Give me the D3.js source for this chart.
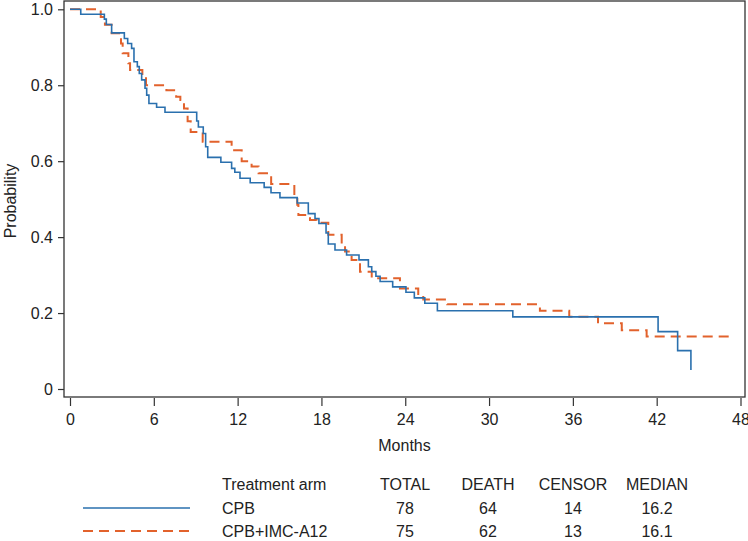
<!DOCTYPE html>
<html>
<head>
<meta charset="utf-8">
<script src="https://cdn.jsdelivr.net/npm/d3@7/dist/d3.min.js"></script>
<style>
  html, body { margin: 0; padding: 0; background: #fff; }
  svg { display: block; }
  text { font-family: "Liberation Sans", Arial, Helvetica, sans-serif; fill: #222; }
</style>
</head>
<body>
<svg id="chart" width="748" height="541"></svg>
<script>
// ---- Data ----
const xTicks = [0, 6, 12, 18, 24, 30, 36, 42, 48];
const yTicks = [0, 0.2, 0.4, 0.6, 0.8, 1.0];
const yTickLabels = ["0", "0.2", "0.4", "0.6", "0.8", "1.0"];

// CPB arm (solid blue): step times (months) and survival probability
const cpbTime = [0, 0.77, 2.46, 2.6, 2.98, 3.89, 4.13, 4.41, 4.58, 4.82, 4.96, 5.13, 5.37, 5.49, 5.65, 6.2, 6.8,
  9.07, 9.19, 9.54, 9.71, 9.86, 10.8, 11.57, 11.8, 12.17, 12.9, 13.9, 14.39, 15.03, 16.27, 17.06, 17.54, 17.82,
  18.33, 18.49, 18.97, 19.8, 20.69, 21.36, 21.6, 21.9, 22.2, 23.1, 24.05, 24.65, 25.4, 26.3, 31.7, 42.1, 43.5, 44.45];
const cpbSurv = [1.0, 0.987, 0.974, 0.96, 0.938, 0.923, 0.91, 0.897, 0.862, 0.849, 0.831, 0.814, 0.792, 0.774, 0.752, 0.742, 0.729,
  0.706, 0.69, 0.673, 0.638, 0.61, 0.597, 0.581, 0.571, 0.555, 0.543, 0.531, 0.517, 0.504, 0.49, 0.462, 0.449, 0.436,
  0.411, 0.382, 0.366, 0.353, 0.34, 0.322, 0.309, 0.297, 0.283, 0.269, 0.255, 0.24, 0.226, 0.206, 0.19, 0.151, 0.101, 0.05];

// CPB+IMC-A12 arm (dashed orange)
const imcTime = [0, 2.2, 2.5, 2.98, 3.65, 3.77, 4.18, 4.3, 5.18, 5.44, 6.9, 7.6, 7.9, 8.16, 8.42, 8.64, 9.5,
  11.57, 12.29, 13.0, 13.5, 14.4, 16.06, 16.27, 16.35, 17.18, 17.66, 18.49, 19.45, 19.69, 20.16, 20.76, 21.6,
  23.62, 24.93, 25.29, 27.0, 33.64, 35.74, 37.8, 39.5, 41.28, 47.48];
const imcSurv = [1.0, 0.98, 0.959, 0.937, 0.91, 0.884, 0.858, 0.84, 0.827, 0.8, 0.787, 0.77, 0.761, 0.739, 0.705, 0.677, 0.651,
  0.629, 0.6, 0.586, 0.568, 0.54, 0.511, 0.485, 0.458, 0.445, 0.438, 0.406, 0.379, 0.362, 0.34, 0.309, 0.292,
  0.265, 0.25, 0.236, 0.223, 0.206, 0.19, 0.173, 0.155, 0.138, 0.138];

const legendHeader = ["Treatment arm", "TOTAL", "DEATH", "CENSOR", "MEDIAN"];
const armNames = ["CPB", "CPB+IMC-A12"];
const armTotal = [78, 75];
const armDeath = [64, 62];
const armCensor = [14, 13];
const armMedian = ["16.2", "16.1"];
const armColors = ["#2a70ae", "#e2622c"];

// ---- Layout ----
const svg = d3.select("#chart");
const x = d3.scaleLinear().domain([0, 48]).range([70, 740.5]);
const y = d3.scaleLinear().domain([0, 1]).range([389, 9.3]);
const frameL = 64, frameR = 745, frameT = 1, frameB = 397;
const fontSize = 16;
const dash = "10,6";

// frame
svg.append("rect")
  .attr("x", frameL).attr("y", frameT)
  .attr("width", frameR - frameL).attr("height", frameB - frameT)
  .attr("fill", "none").attr("stroke", "#333").attr("stroke-width", 1.3);

// Y axis
const yAxis = d3.axisLeft(y).tickValues(yTicks)
  .tickFormat((d, i) => yTickLabels[i]).tickSize(6).tickPadding(5);
const gy = svg.append("g").attr("transform", `translate(${frameL},0)`).call(yAxis);
gy.select(".domain").remove();
gy.selectAll(".tick line").attr("stroke", "#333").attr("stroke-width", 1.2);
gy.selectAll(".tick text").attr("font-size", fontSize).attr("fill", "#222")
  .style("font-family", "'Liberation Sans', Arial, sans-serif");

// X axis
const xAxis = d3.axisBottom(x).tickValues(xTicks).tickSize(8).tickPadding(8);
const gx = svg.append("g").attr("transform", `translate(0,${frameB + 1})`).call(xAxis);
gx.select(".domain").remove();
gx.selectAll(".tick line").attr("stroke", "#333").attr("stroke-width", 1.2);
gx.selectAll(".tick text").attr("font-size", fontSize).attr("fill", "#222")
  .style("font-family", "'Liberation Sans', Arial, sans-serif");

// Axis titles
svg.append("text").attr("x", (frameL + frameR) / 2).attr("y", 451)
  .attr("text-anchor", "middle").attr("font-size", fontSize).text("Months");
svg.append("text").attr("transform", `translate(16,${(frameT + frameB) / 2 + 2}) rotate(-90)`)
  .attr("text-anchor", "middle").attr("font-size", fontSize).text("Probability");

// Curves
const line = d3.line().curve(d3.curveStepAfter).x(d => x(d[0])).y(d => y(d[1]));
const cpbData = cpbTime.map((t, i) => [t, cpbSurv[i]]);
const imcData = imcTime.map((t, i) => [t, imcSurv[i]]);

svg.append("path").datum(imcData).attr("d", line)
  .attr("fill", "none").attr("stroke", armColors[1]).attr("stroke-width", 2)
  .attr("stroke-dasharray", dash);
svg.append("path").datum(cpbData).attr("d", line)
  .attr("fill", "none").attr("stroke", armColors[0]).attr("stroke-width", 1.6);

// Legend table
const colX = [222, 405, 488, 573, 657];
const rowY = [490, 514, 537];
legendHeader.forEach((h, i) => {
  svg.append("text").attr("x", colX[i]).attr("y", rowY[0])
    .attr("text-anchor", i === 0 ? "start" : "middle")
    .attr("font-size", fontSize).text(h);
});
armNames.forEach((name, r) => {
  const yy = rowY[r + 1];
  svg.append("line").attr("x1", 83).attr("x2", 190).attr("y1", yy - 6).attr("y2", yy - 6)
    .attr("stroke", armColors[r]).attr("stroke-width", r === 0 ? 1.6 : 2)
    .attr("stroke-dasharray", r === 0 ? null : dash);
  const vals = [name, armTotal[r], armDeath[r], armCensor[r], armMedian[r]];
  vals.forEach((v, i) => {
    svg.append("text").attr("x", colX[i]).attr("y", yy)
      .attr("text-anchor", i === 0 ? "start" : "middle")
      .attr("font-size", fontSize).text(v);
  });
});
</script>
</body>
</html>
